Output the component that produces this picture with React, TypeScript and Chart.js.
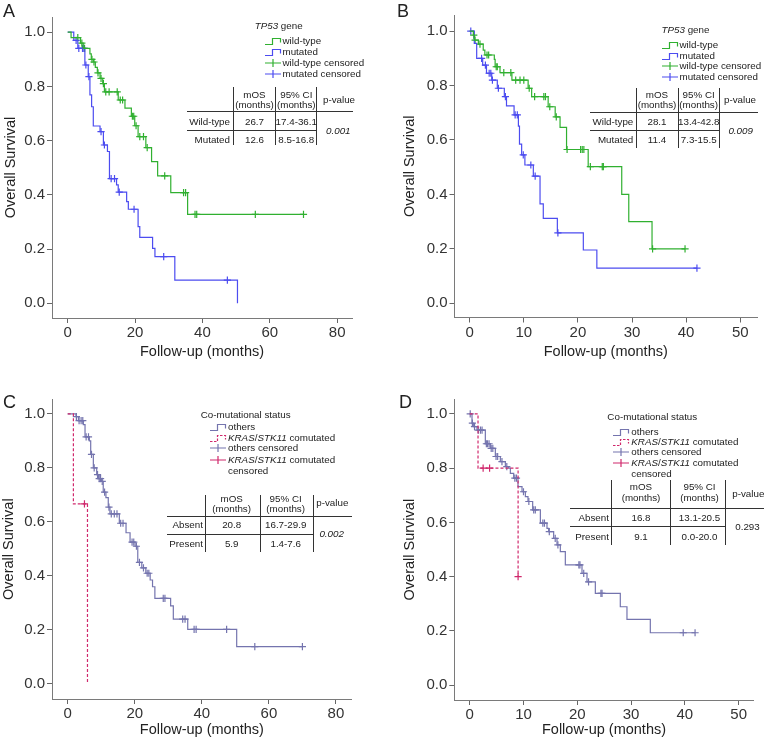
import React, { useEffect, useRef } from 'react';
import { Chart, registerables } from 'chart.js';
Chart.register(...registerables);

const FONT = '"Liberation Sans", Arial, Helvetica, sans-serif';
const GREEN = '#30b030';
const BLUE = '#4c4cf0';
const SLATE = '#7474ae';
const CRIMSON = '#d0286c';
const INK = '#222';

// ---------- shared ticks ----------
const yTicks = [0, 0.2, 0.4, 0.6, 0.8, 1.0];
const xTicks80 = [0, 20, 40, 60, 80];
const xTicks50 = [0, 10, 20, 30, 40, 50];

// ---------- Panel A : TP53 (follow-up to 80) ----------
const wildTimeA = [0, 1.0, 3.8, 4.6, 6.6, 7.0, 7.6, 8.2, 8.8, 9.6, 10.4, 10.9, 15.0, 17.0, 18.9, 19.9, 20.9, 23.2, 24.9, 26.7, 30.6, 35.6];
const wildSurvA = [1, 0.98, 0.96, 0.94, 0.92, 0.90, 0.89, 0.87, 0.85, 0.83, 0.81, 0.78, 0.75, 0.72, 0.69, 0.655, 0.615, 0.574, 0.523, 0.47, 0.408, 0.328];
const wildEndA = 70;
const wildCensA = [3.0, 4.2, 5.0, 7.2, 7.8, 9.0, 9.9, 10.6, 11.3, 12.3, 14.7, 15.6, 16.3, 19.2, 19.6, 20.3, 21.4, 22.5, 23.6, 28.8, 34.4, 35.0, 37.8, 38.3, 55.7, 70];
const mutTimeA = [0, 1.8, 3.0, 5.1, 6.1, 6.6, 7.1, 7.6, 9.6, 10.6, 11.8, 12.4, 14.5, 15.0, 17.5, 18.0, 20.9, 21.4, 25.2, 25.9, 31.8, 50.4];
const mutSurvA = [1, 0.97, 0.94, 0.879, 0.836, 0.769, 0.725, 0.654, 0.633, 0.584, 0.56, 0.46, 0.437, 0.41, 0.375, 0.347, 0.283, 0.243, 0.203, 0.172, 0.086, 0];
const mutCensA = [2.5, 3.3, 4.4, 4.8, 5.4, 6.3, 9.9, 10.9, 12.9, 13.9, 15.3, 19.7, 28.5, 47.4];

// ---------- Panel B : TP53 (follow-up to 50) ----------
const wildTimeB = [0, 0.67, 0.85, 1.6, 2.5, 2.8, 4.55, 4.7, 5.6, 7.8, 10.8, 11.45, 14.5, 15.8, 16.7, 17.9, 21.9, 28.1, 29.4, 33.7];
const wildSurvB = [1, 0.985, 0.967, 0.952, 0.93, 0.912, 0.896, 0.869, 0.847, 0.82, 0.79, 0.759, 0.722, 0.685, 0.646, 0.565, 0.502, 0.4, 0.3, 0.2];
const wildEndB = 39.8;
const wildCensB = [0.75, 1.0, 1.9, 3.2, 3.5, 4.9, 5.1, 6.3, 7.6, 8.5, 9.3, 10.0, 11.0, 12.0, 13.7, 14.0, 14.8, 16.0, 18.0, 20.5, 20.8, 21.1, 22.3, 24.5, 24.7, 33.8, 39.8];
const mutTimeB = [0, 0.85, 1.29, 2.4, 3.1, 4.07, 5.1, 6.4, 6.8, 8.2, 9.0, 9.2, 9.6, 10.2, 11.76, 13.0, 13.6, 16.2, 21.0, 23.5];
const mutSurvB = [1, 0.955, 0.90, 0.875, 0.845, 0.82, 0.79, 0.759, 0.725, 0.692, 0.651, 0.585, 0.545, 0.508, 0.467, 0.365, 0.312, 0.259, 0.196, 0.129];
const mutEndB = 42;
const mutCensB = [0.2, 2.2, 2.9, 3.6, 3.9, 4.2, 5.3, 6.6, 8.4, 8.8, 9.9, 11.3, 12.1, 16.3, 42];

// ---------- Panel C : co-mutation (follow-up to 80) ----------
const othTimeC = [0, 2.5, 3.2, 4.67, 5.17, 6.46, 6.86, 7.65, 8.65, 9.15, 10.1, 10.6, 11.4, 12.1, 12.6, 15.4, 17.4, 18.6, 20.1, 20.9, 22.1, 23.3, 24.6, 25.3, 26.0, 30.7, 31.5, 35.8, 50.4];
const othSurvC = [1, 0.99, 0.975, 0.96, 0.915, 0.90, 0.85, 0.80, 0.775, 0.76, 0.75, 0.71, 0.69, 0.655, 0.63, 0.595, 0.56, 0.525, 0.51, 0.45, 0.43, 0.41, 0.385, 0.36, 0.317, 0.289, 0.24, 0.2025, 0.138];
const othEndC = 70;
const othCensC = [2.6, 3.4, 4.0, 4.5, 5.5, 6.2, 7.1, 7.9, 8.9, 9.4, 9.8, 10.3, 11.0, 12.3, 13.0, 13.9, 14.7, 15.8, 16.5, 19.2, 19.7, 20.5, 21.4, 22.6, 23.7, 24.2, 28.5, 29.0, 34.3, 35.0, 37.7, 38.3, 47.4, 55.8, 70];
const krasTimeC = [0, 1.7, 5.9];
const krasSurvC = [1, 0.667, 0];
const krasCensC = [5.0];

// ---------- Panel D : co-mutation (follow-up to 50) ----------
const othTimeD = [0, 0.43, 0.74, 1.36, 2.91, 3.84, 4.77, 5.70, 6.63, 7.25, 7.56, 8.18, 8.98, 9.73, 10.35, 10.84, 11.71, 13.14, 14.37, 14.68, 15.61, 16.23, 16.85, 17.78, 20.88, 21.81, 23.36, 28.0, 29.24, 33.58];
const othSurvD = [1, 0.966, 0.953, 0.94, 0.89, 0.873, 0.843, 0.824, 0.806, 0.80, 0.781, 0.763, 0.732, 0.713, 0.695, 0.677, 0.646, 0.597, 0.578, 0.566, 0.541, 0.517, 0.492, 0.443, 0.412, 0.381, 0.338, 0.289, 0.242, 0.193];
const othEndD = 41.9;
const othCensD = [0.1, 0.5, 0.9, 1.6, 2.0, 2.3, 3.1, 3.3, 3.6, 4.0, 4.3, 4.9, 5.2, 6.0, 6.9, 8.4, 8.7, 10.0, 11.0, 11.9, 12.2, 13.6, 13.9, 14.8, 15.9, 16.4, 20.3, 20.5, 21.2, 22.1, 24.4, 24.6, 39.7, 41.9];
const krasTimeD = [0, 1.55, 9.0];
const krasSurvD = [1, 0.8, 0.4];
const krasCensD = [2.5, 3.7, 9.0];

// ---------- table texts ----------
const tp53RowsA = [['Wild-type', '26.7', '17.4-36.1'], ['Mutated', '12.6', '8.5-16.8']];
const tp53PA = '0.001';
const tp53RowsB = [['Wild-type', '28.1', '13.4-42.8'], ['Mutated', '11.4', '7.3-15.5']];
const tp53PB = '0.009';
const coRowsC = [['Absent', '20.8', '16.7-29.9'], ['Present', '5.9', '1.4-7.6']];
const coPC = '0.002';
const coRowsD = [['Absent', '16.8', '13.1-20.5'], ['Present', '9.1', '0.0-20.0']];
const coPD = '0.293';

// ---------- helpers ----------
function stepData(times: number[], surv: number[], end?: number) {
  const pts = times.map((t, i) => ({ x: t, y: surv[i] }));
  if (end !== undefined) pts.push({ x: end, y: surv[surv.length - 1] });
  return pts;
}
function censData(cens: number[], times: number[], surv: number[]) {
  return cens.map((t) => {
    let s = surv[0];
    for (let i = 0; i < times.length; i++) if (times[i] <= t) s = surv[i];
    return { x: t, y: s };
  });
}
const curve = (label: string, data: any[], color: string, dash = false) => ({
  label, data, showLine: true, stepped: true, borderColor: color, backgroundColor: color,
  borderWidth: 1.2, pointRadius: 0, pointHoverRadius: 0, borderDash: dash ? [3, 2] : [], fill: false,
});
const marks = (label: string, data: any[], color: string) => ({
  label, data, showLine: false, pointStyle: 'cross', pointRadius: 3.6, pointHoverRadius: 3.6,
  borderColor: color, backgroundColor: color, borderWidth: 1.2,
});

type PanelCfg = {
  left: number; top: number; w: number; h: number;
  area: { l: number; r: number; t: number; b: number };
  xMin: number; xMax: number; yMin: number; yMax: number; xTicks: number[];
  yTitlePad: number; xTitlePad: number; datasets: any[];
};

function KMChart({ cfg }: { cfg: PanelCfg }) {
  const ref = useRef<HTMLCanvasElement>(null);
  useEffect(() => {
    const c = cfg;
    const chart = new Chart(ref.current as HTMLCanvasElement, {
      type: 'scatter',
      data: { datasets: c.datasets },
      options: {
        responsive: false, animation: false, devicePixelRatio: 1,
        layout: { padding: { left: 0, top: c.area.t, right: c.w - c.area.r, bottom: 0 } },
        plugins: { legend: { display: false }, tooltip: { enabled: false } },
        events: [],
        scales: {
          x: {
            type: 'linear', min: c.xMin, max: c.xMax,
            afterBuildTicks: (s: any) => { s.ticks = c.xTicks.map((v) => ({ value: v })); },
            afterFit: (s: any) => { s.height = c.h - c.area.b; },
            grid: { drawOnChartArea: false, drawTicks: true, tickLength: 5, color: '#666' },
            border: { display: true, color: '#7a7a7a', width: 1 },
            ticks: { font: { family: FONT, size: 15 }, color: '#333', padding: 1, autoSkip: false, maxRotation: 0 },
            title: { display: true, text: 'Follow-up (months)', font: { family: FONT, size: 14.5 }, color: INK, padding: { top: 0, bottom: c.xTitlePad } },
          },
          y: {
            type: 'linear', min: c.yMin, max: c.yMax,
            afterBuildTicks: (s: any) => { s.ticks = yTicks.map((v) => ({ value: v })); },
            afterFit: (s: any) => { s.width = c.area.l; },
            grid: { drawOnChartArea: false, drawTicks: true, tickLength: 5, color: '#666' },
            border: { display: true, color: '#7a7a7a', width: 1 },
            ticks: { font: { family: FONT, size: 15 }, color: '#333', padding: 2, callback: (v: any) => Number(v).toFixed(1) },
            title: { display: true, text: 'Overall Survival', font: { family: FONT, size: 14.5 }, color: INK, padding: { top: c.yTitlePad, bottom: 0 } },
          },
        },
      } as any,
    });
    return () => chart.destroy();
  }, [cfg]);
  return (
    <canvas ref={ref} width={cfg.w} height={cfg.h}
      style={{ position: 'absolute', left: cfg.left, top: cfg.top, width: cfg.w, height: cfg.h }} />
  );
}

// ---------- overlay text helpers ----------
type TP = { x: number; y: number; a?: 'l' | 'c' | 'r'; s?: number; i?: boolean; children: React.ReactNode };
const T = ({ x, y, a = 'c', s = 9.8, i, children }: TP) => (
  <div style={{
    position: 'absolute', left: x, top: y,
    transform: `translate(${a === 'l' ? '0' : a === 'c' ? '-50%' : '-100%'},-50%)`,
    fontSize: s, fontStyle: i ? 'italic' : 'normal', lineHeight: 1, whiteSpace: 'nowrap',
    color: INK, fontFamily: FONT,
  }}>{children}</div>
);
const HL = ({ x1, x2, y }: { x1: number; x2: number; y: number }) => (
  <div style={{ position: 'absolute', left: x1, top: y - 0.5, width: x2 - x1, height: 1, background: '#333' }} />
);
const VL = ({ x, y1, y2 }: { x: number; y1: number; y2: number }) => (
  <div style={{ position: 'absolute', left: x - 0.5, top: y1, width: 1, height: y2 - y1, background: '#333' }} />
);
const StepG = ({ x, y, color, dash }: { x: number; y: number; color: string; dash?: boolean }) => (
  <svg style={{ position: 'absolute', left: x, top: y - 5 }} width={17} height={10}>
    <path d="M0 8.5 H7.5 V2.5 H15.5 V6.5" fill="none" stroke={color} strokeWidth={1.2} strokeDasharray={dash ? '2.5 1.5' : undefined} />
  </svg>
);
const PlusG = ({ x, y, color }: { x: number; y: number; color: string }) => (
  <svg style={{ position: 'absolute', left: x, top: y - 5 }} width={17} height={10}>
    <path d="M0 5 H16 M8 1 V9" fill="none" stroke={color} strokeWidth={1.2} />
  </svg>
);

type TableGeo = {
  v: number[]; vTop: number; vBot: number; hx0: number; hx1: number; h1: number; h2: number;
  labR: number; c1: number; c2: number; cp: number; hy1: number; hy2: number; py: number;
  r1: number; r2: number; pvx: number; pvy: number;
};
function StatTable({ g, rows, p, italicP }: { g: TableGeo; rows: string[][]; p: string; italicP: boolean }) {
  return (
    <>
      {g.v.map((x, k) => <VL key={k} x={x} y1={g.vTop} y2={g.vBot} />)}
      <HL x1={g.hx0} x2={g.hx1} y={g.h1} />
      <HL x1={g.hx0} x2={g.v[2]} y={g.h2} />
      <T x={g.c1} y={g.hy1}>mOS</T>
      <T x={g.c1} y={g.hy2}>(months)</T>
      <T x={g.c2} y={g.hy1}>95% CI</T>
      <T x={g.c2} y={g.hy2}>(months)</T>
      <T x={g.cp} y={g.py}>p-value</T>
      {rows.map((r, k) => (
        <React.Fragment key={k}>
          <T x={g.labR} y={k === 0 ? g.r1 : g.r2} a="r">{r[0]}</T>
          <T x={g.c1} y={k === 0 ? g.r1 : g.r2}>{r[1]}</T>
          <T x={g.c2} y={k === 0 ? g.r1 : g.r2}>{r[2]}</T>
        </React.Fragment>
      ))}
      <T x={g.pvx} y={g.pvy} i={italicP}>{p}</T>
    </>
  );
}

// ---------- panel configs ----------
const cfgA: PanelCfg = {
  left: 0, top: 0, w: 382, h: 370, area: { l: 52, r: 352, t: 17, b: 318 },
  xMin: -4.66, xMax: 84.4, yMin: -0.054, yMax: 1.056, xTicks: xTicks80, yTitlePad: 2.3, xTitlePad: 9,
  datasets: [
    curve('wild-type', stepData(wildTimeA, wildSurvA, wildEndA), GREEN),
    curve('mutated', stepData(mutTimeA, mutSurvA), BLUE),
    marks('wild-type censored', censData(wildCensA, wildTimeA, wildSurvA), GREEN),
    marks('mutated censored', censData(mutCensA, mutTimeA, mutSurvA), BLUE),
  ],
};
const cfgB: PanelCfg = {
  left: 382, top: 0, w: 382, h: 370, area: { l: 72.5, r: 375, t: 15, b: 317.5 },
  xMin: -2.81, xMax: 53.1, yMin: -0.052, yMax: 1.059, xTicks: xTicks50, yTitlePad: 19.6, xTitlePad: 9,
  datasets: [
    curve('wild-type', stepData(wildTimeB, wildSurvB, wildEndB), GREEN),
    curve('mutated', stepData(mutTimeB, mutSurvB, mutEndB), BLUE),
    marks('wild-type censored', censData(wildCensB, wildTimeB, wildSurvB), GREEN),
    marks('mutated censored', censData(mutCensB, mutTimeB, mutSurvB), BLUE),
  ],
};
const cfgC: PanelCfg = {
  left: 0, top: 370, w: 382, h: 370, area: { l: 52, r: 351.7, t: 29.3, b: 329 },
  xMin: -4.68, xMax: 84.7, yMin: -0.0556, yMax: 1.054, xTicks: xTicks80, yTitlePad: 0, xTitlePad: 1.3,
  datasets: [
    curve('KRAS/STK11 comutated', stepData(krasTimeC, krasSurvC), CRIMSON, true),
    marks('KRAS/STK11 comutated censored', censData(krasCensC, krasTimeC, krasSurvC), CRIMSON),
    curve('others', stepData(othTimeC, othSurvC, othEndC), SLATE),
    marks('others censored', censData(othCensC, othTimeC, othSurvC), SLATE),
  ],
};
const cfgD: PanelCfg = {
  left: 382, top: 370, w: 382, h: 370, area: { l: 72.3, r: 371.7, t: 29.3, b: 330 },
  xMin: -2.86, xMax: 52.8, yMin: -0.055, yMax: 1.054, xTicks: xTicks50, yTitlePad: 19.6, xTitlePad: 1.3,
  datasets: [
    curve('KRAS/STK11 comutated', stepData(krasTimeD, krasSurvD), CRIMSON, true),
    marks('KRAS/STK11 comutated censored', censData(krasCensD, krasTimeD, krasSurvD), CRIMSON),
    curve('others', stepData(othTimeD, othSurvD, othEndD), SLATE),
    marks('others censored', censData(othCensD, othTimeD, othSurvD), SLATE),
  ],
};

const geoA: TableGeo = { v: [233.3, 275, 316], vTop: 86.7, vBot: 145, hx0: 186.7, hx1: 353.3, h1: 111.7, h2: 130,
  labR: 230, c1: 254.5, c2: 296.3, cp: 339, hy1: 95, hy2: 105, py: 100, r1: 121.7, r2: 140, pvx: 338.3, pvy: 130.7 };
const geoB: TableGeo = { v: [636.7, 678.3, 719], vTop: 88, vBot: 147.7, hx0: 590, hx1: 758.3, h1: 112.3, h2: 130.7,
  labR: 633.3, c1: 657, c2: 698.7, cp: 740, hy1: 95, hy2: 105, py: 100, r1: 121.7, r2: 140, pvx: 740.7, pvy: 130.7 };
const geoC: TableGeo = { v: [205, 260, 313.3], vTop: 495, vBot: 551.7, hx0: 166.7, hx1: 351.7, h1: 516.7, h2: 534.3,
  labR: 203, c1: 231.7, c2: 285.7, cp: 332.3, hy1: 499.3, hy2: 508.8, py: 503.3, r1: 525, r2: 544, pvx: 331.7, pvy: 534 };
const geoD: TableGeo = { v: [611.7, 670, 725], vTop: 480, vBot: 545, hx0: 570, hx1: 764, h1: 508.3, h2: 526.7,
  labR: 609, c1: 641, c2: 699.5, cp: 748.3, hy1: 487.3, hy2: 497.8, py: 494, r1: 517.7, r2: 536.7, pvx: 747.5, pvy: 526.7 };

function TP53Legend({ cx, ty, gx, rows }: { cx: number; ty: number; gx: number; rows: number[] }) {
  const tx = gx + 17.5;
  return (
    <>
      <T x={cx} y={ty}><i>TP53</i> gene</T>
      <StepG x={gx} y={rows[0]} color={GREEN} />
      <T x={tx} y={rows[0]} a="l">wild-type</T>
      <StepG x={gx} y={rows[1]} color={BLUE} />
      <T x={tx} y={rows[1]} a="l">mutated</T>
      <PlusG x={gx} y={rows[2]} color={GREEN} />
      <T x={tx} y={rows[2]} a="l">wild-type censored</T>
      <PlusG x={gx} y={rows[3]} color={BLUE} />
      <T x={tx} y={rows[3]} a="l">mutated censored</T>
    </>
  );
}
function CoLegend({ cx, ty, gx, rows }: { cx: number; ty: number; gx: number; rows: number[] }) {
  const tx = gx + 18;
  return (
    <>
      <T x={cx} y={ty}>Co-mutational status</T>
      <StepG x={gx} y={rows[0]} color={SLATE} />
      <T x={tx} y={rows[0]} a="l">others</T>
      <StepG x={gx} y={rows[1]} color={CRIMSON} dash />
      <T x={tx} y={rows[1]} a="l"><i>KRAS</i>/<i>STK11</i> comutated</T>
      <PlusG x={gx} y={rows[2]} color={SLATE} />
      <T x={tx} y={rows[2]} a="l">others censored</T>
      <PlusG x={gx} y={rows[3]} color={CRIMSON} />
      <T x={tx} y={rows[3]} a="l"><i>KRAS</i>/<i>STK11</i> comutated</T>
      <T x={tx} y={rows[4]} a="l">censored</T>
    </>
  );
}

export default function App() {
  return (
    <div style={{ position: 'absolute', left: 0, top: 0, width: 764, height: 740, background: '#fff', overflow: 'hidden', fontFamily: FONT }}>
      <KMChart cfg={cfgA} />
      <KMChart cfg={cfgB} />
      <KMChart cfg={cfgC} />
      <KMChart cfg={cfgD} />

      <T x={3} y={11} a="l" s={18}>A</T>
      <T x={397} y={11} a="l" s={18}>B</T>
      <T x={3} y={401.5} a="l" s={18}>C</T>
      <T x={399} y={401.5} a="l" s={18}>D</T>

      <TP53Legend cx={278.7} ty={26} gx={265} rows={[41, 52, 63, 74]} />
      <StatTable g={geoA} rows={tp53RowsA} p={tp53PA} italicP />
      <TP53Legend cx={685.5} ty={30} gx={662} rows={[45, 55.7, 66.3, 77]} />
      <StatTable g={geoB} rows={tp53RowsB} p={tp53PB} italicP />
      <CoLegend cx={245.7} ty={415} gx={210} rows={[427.3, 437.7, 448.3, 460, 470.7]} />
      <StatTable g={geoC} rows={coRowsC} p={coPC} italicP />
      <CoLegend cx={652.3} ty={416.7} gx={613.3} rows={[431.7, 441.7, 452.3, 463.3, 474]} />
      <StatTable g={geoD} rows={coRowsD} p={coPD} italicP={false} />
    </div>
  );
}
